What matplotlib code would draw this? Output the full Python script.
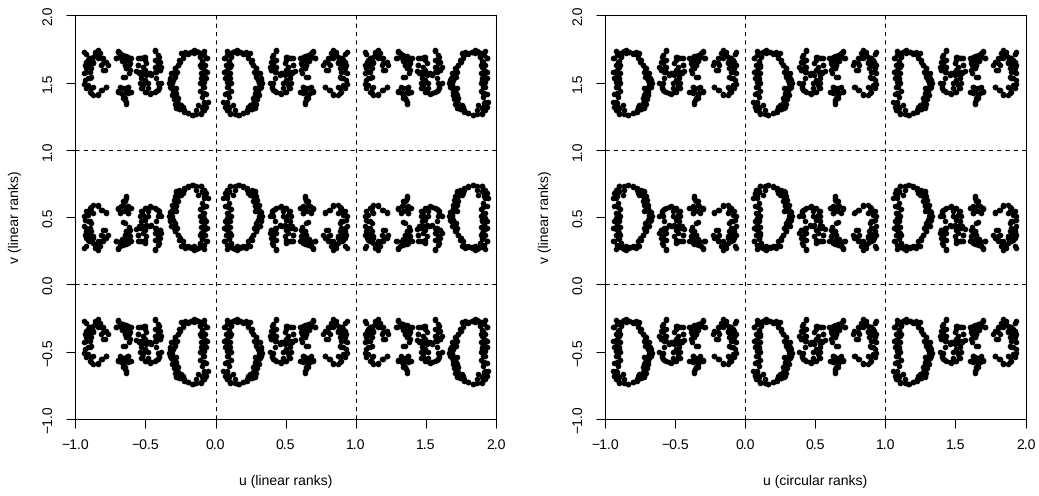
import numpy as np
import matplotlib
matplotlib.use("Agg")
import matplotlib.pyplot as plt

plt.rcParams['font.family'] = ['Liberation Sans', 'DejaVu Sans']
plt.rcParams['text.hinting'] = 'no_hinting'
plt.rcParams['text.hinting_factor'] = 1

# points of the base tile, one pair of lists per letter of "Data"
d_u = [.102, .085, .073, .095, .081, .095, .109, .090, .081, .100, .085, .104, .090, .076, .095, .066, .085, .081, .104, .126,
       .114, .078, .107, .085, .078, .109,
       .138, .166, .197, .228, .252, .280, .290, .233, .276, .299, .309, .285, .299, .316, .304, .328, .292, .316, .276, .292,
       .268, .252, .233, .245, .221, .197, .173, .150, .138, .280, .304, .268, .126,
       .102, .138, .162, .197, .226, .257, .281, .245, .079, .067, .098, .055, .083, .067, .090, .079, .067, .098, .083, .060,
       .102, .083, .060, .098, .114, .090, .126, .150, .174, .197, .221, .233, .257, .269, .288, .304, .321, .304, .335, .316,
       .297, .281, .269, .288, .328, .312, .288, .293]
d_v = [.733, .703, .674, .684, .641, .604, .560, .530, .493, .468, .443, .426, .394, .369, .344, .320, .295, .265, .277, .270,
       .302, .468, .505, .580, .411, .369,
       .703, .741, .728, .716, .698, .691, .659, .679, .629, .624, .592, .580, .542, .518, .481, .481, .443, .431, .419, .394,
       .369, .344, .320, .282, .287, .277, .275, .282, .263, .542, .567, .654, .666,
       .728, .733, .741, .724, .704, .699, .684, .667, .704, .679, .691, .642, .654, .585, .575, .530, .468, .481, .444, .419,
       .382, .369, .320, .337, .307, .283, .270, .258, .270, .288, .270, .295, .332, .369, .394, .431, .468, .481, .506, .543,
       .567, .592, .617, .617, .535, .506, .456, .419]

a1_u = [.404, .423, .459, .494, .523, .537, .506, .482, .387, .404, .530, .547, .523, .482, .459, .435, .399, .387, .418, .411,
        .435, .404, .435, .518, .554, .506, .542, .513, .566,
        .411, .435, .470, .506, .534, .482, .518, .506, .411, .423, .399, .423, .435, .399, .423, .411, .435, .494, .530, .506,
        .542, .553, .494, .530, .506, .553, .470]
a1_v = [.542, .560, .575, .567, .542, .505, .481, .505, .505, .530, .468, .431, .419, .431, .443, .419, .406, .381, .394, .357,
        .332, .307, .263, .381, .369, .332, .320, .312, .411,
        .555, .567, .585, .567, .543, .543, .518, .493, .506, .468, .407, .419, .382, .345, .332, .295, .258, .444, .444, .407,
        .419, .369, .357, .320, .307, .320, .431]

t_u = [.637, .649, .625, .602, .661, .697, .637, .680, .625, .661, .618, .637, .618, .649, .614, .649, .680, .713, .697, .637, .666,
       .637, .644, .660, .613, .637, .672, .696, .625, .660, .649, .613, .637, .613, .649, .601, .637, .672, .660, .708, .684,
       .696, .625]
t_v = [.641, .617, .580, .567, .592, .560, .542, .530, .530, .461, .426, .394, .369, .369, .332, .320, .295, .320, .270, .302, .337,
       .659, .629, .617, .567, .567, .580, .567, .530, .543, .456, .407, .394, .357, .369, .320, .332, .320, .295, .320, .283,
       .263, .307]

a2_u = [.780, .808, .839, .887, .923, .935, .887, .911, .887, .935, .923, .804, .768, .804, .816, .839, .863, .899, .927, .935,
        .875, .899, .911, .851,
        .779, .815, .839, .874, .898, .874, .910, .929, .898, .898, .922, .886, .922, .791, .815, .779, .803, .839, .874, .898,
        .922, .827, .839, .874, .898, .934, .863]
a2_v = [.535, .555, .592, .575, .542, .510, .542, .468, .456, .431, .394, .406, .369, .357, .320, .282, .270, .320, .287, .270,
        .357, .369, .332, .295,
        .530, .555, .585, .592, .567, .530, .518, .481, .468, .419, .419, .394, .382, .407, .369, .345, .320, .320, .345, .357,
        .345, .283, .258, .307, .320, .369, .295]

ticks = [-1.0, -0.5, 0.0, 0.5, 1.0, 1.5, 2.0]
tick_labels = ['\u22121.0', '\u22120.5', '0.0', '0.5', '1.0', '1.5', '2.0']
xlabels = ['u (linear ranks)', 'u (circular ranks)']
ylabel = 'v (linear ranks)'

u = np.array(d_u + a1_u + t_u + a2_u)
v = np.array(d_v + a1_v + t_v + a2_v)

W, H = 1039, 496
fig = plt.figure(figsize=(W / 100, H / 100), dpi=100)

lefts = [75.3, 605.0]
for i, left in enumerate(lefts):
    ax = fig.add_axes([left / W, (H - 419) / H, 420.6 / W, 403.7 / H])
    # linear ranks are mirrored in u, circular ranks just repeat
    if i == 0:
        us = [-u, u, 2 - u]
    else:
        us = [u - 1, u, u + 1]
    for uu in us:
        for vv in [-v, v, 2 - v]:
            ax.scatter(uu, vv, s=16, c='black', linewidths=0, zorder=3)
    for pos in [0, 1]:
        ax.axvline(pos, color='black', lw=0.75, dashes=(4, 4))
        ax.axhline(pos, color='black', lw=0.75, dashes=(4, 4))
    ax.set_xlim(-1, 2)
    ax.set_ylim(-1, 2)
    ax.set_xticks(ticks)
    ax.set_xticklabels(tick_labels, fontsize=10.2)
    ax.set_yticks(ticks)
    ax.set_yticklabels(tick_labels, fontsize=10.2, rotation=90, va='center')
    ax.tick_params(length=6.5, width=0.75, pad=8)
    for s in ax.spines.values():
        s.set_linewidth(0.75)
    fig.text((left + 210.3) / W, 1 - 481 / H, xlabels[i], fontsize=10.2, ha='center', va='center')
    fig.text((left - 60) / W, 1 - 217 / H, ylabel, fontsize=10.2, rotation=90, ha='center', va='center')

fig.savefig('out.png', dpi=100)
